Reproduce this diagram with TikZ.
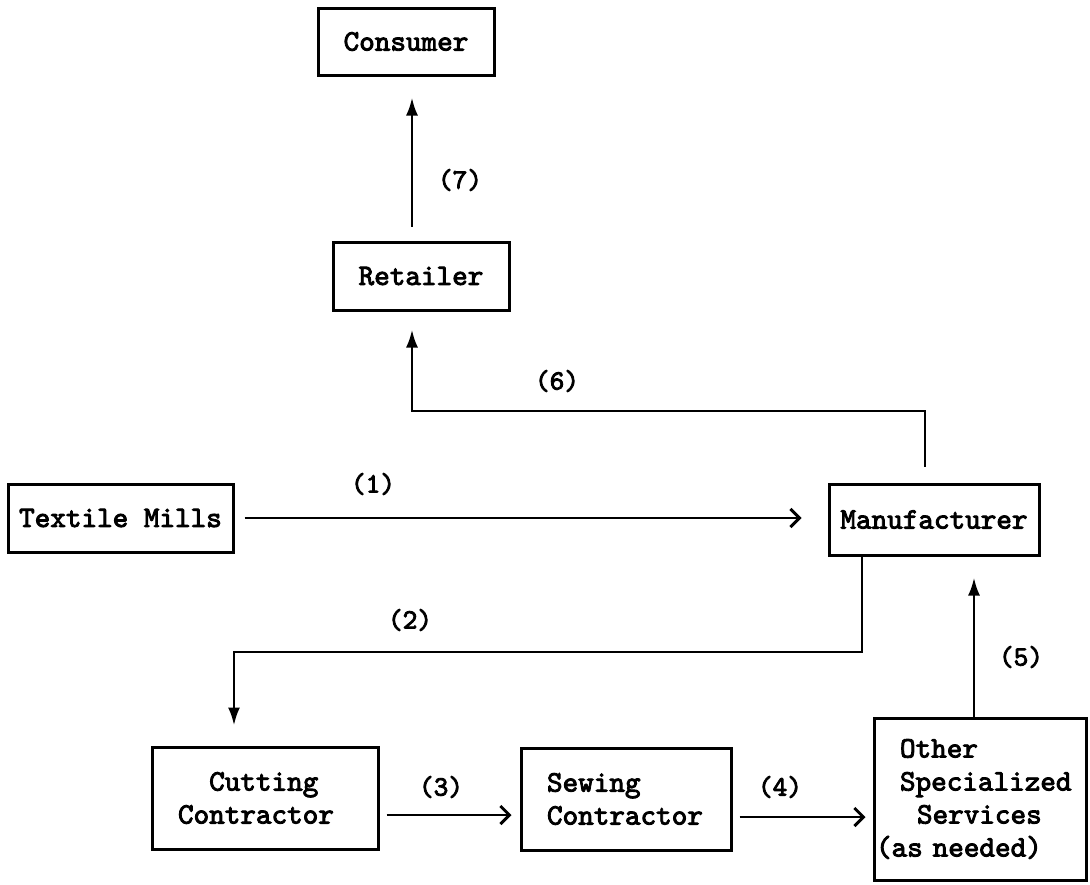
\documentclass[tikz,border=0pt]{standalone}
\usepackage{fontspec}
\newfontfamily\typew{lmmono10-regular}[Extension=.otf, FakeBold=3]
\usepackage{tikz}
\usetikzlibrary{positioning}
\usetikzlibrary{calc}
\usetikzlibrary{arrows.meta}

\begin{document}
\begin{tikzpicture}[x=1pt, y=-1pt]
% -------------------------------------------------
\tikzset{
  base/.style={draw, line width=3pt, inner sep=0pt, rectangle,
    font=\fontsize{29.7}{33}\selectfont\typew},
  box/.style={base, align=center},
  wide/.style={base, align=left, inner xsep=26pt, minimum height=102pt},
  num/.style={font=\fontsize{28}{30}\selectfont\typew},
  line/.style={draw, line width=2.8pt, -{Latex[length=18pt,width=12pt]}},
  barb/.style={draw, line width=2.8pt, -{Straight Barb[length=9pt,width=18pt,line width=3pt]}}
}
\useasboundingbox (0,0) rectangle (1090,884);
% -------------------------------------------------
% Placing the nodes

\node [box, minimum width=176pt, minimum height=67pt] (con) at (406,41.5) {Consumer};
\node [box, minimum width=176pt, minimum height=68pt] (ret) at (421,276) {Retailer};
\node [box, minimum width=225pt, minimum height=68pt] (mil) at (120.5,518) {Textile Mills};
\node [box, minimum width=210pt, minimum height=71pt] (man) at (934,519.5) {Manufacturer};
\node [wide, text width=174pt] (cut) at (265,798) {\hphantom{Cu}Cutting\\Contractor};
\node [wide, text width=158pt] (sew) at (626,799) {Sewing\\Contractor};
\node [wide, inner xsep=2pt, text width=208pt, minimum height=162pt] (oth) at (980,799)
  {\hspace*{24pt}Other\\\hspace*{24pt}Specialized\\\hspace*{41pt}Services\\(as needed)};

% the step numbers
\node [num] (n1) at (373,484) {(1)};
\node [num] (n2) at (410,620) {(2)};
\node [num] (n3) at (441,787) {(3)};
\node [num] (n4) at (780,787) {(4)};
\node [num] (n5) at (1021,657) {(5)};
\node [num] (n6) at (557,381) {(6)};
\node [num] (n7) at (460,180) {(7)};

\coordinate (k6) at (412,411);
\coordinate (k2) at (234,652);

\path [barb, shorten <=10pt, shorten >=26pt] (mil.east) -- (mil.east -| man.west);
\path [line, shorten >=20pt] ([xshift=-72pt]man.south) |- (k2) -- ([xshift=-31pt]cut.north);
\path [barb, shorten <=7pt, shorten >=8pt] ([yshift=-17pt]cut.east) -- ([yshift=-17pt]cut.east -| sew.west);
\path [barb, shorten <=7pt, shorten >=7pt] ([yshift=-18pt]sew.east) -- ([yshift=-18pt]sew.east -| oth.west);
\path [line, shorten >=21pt] ([xshift=-6pt]oth.north) -- ([xshift=-6pt]oth.north |- man.south);
\path [line, shorten <=16pt, shorten >=18pt] ([xshift=-9pt]man.north) |- (k6) -- ([xshift=-9pt]ret.south);
\path [line, shorten <=14pt, shorten >=21pt] ([xshift=-9pt]ret.north) -- ([xshift=-9pt]ret.north |- con.south);

\end{tikzpicture}
\end{document}
